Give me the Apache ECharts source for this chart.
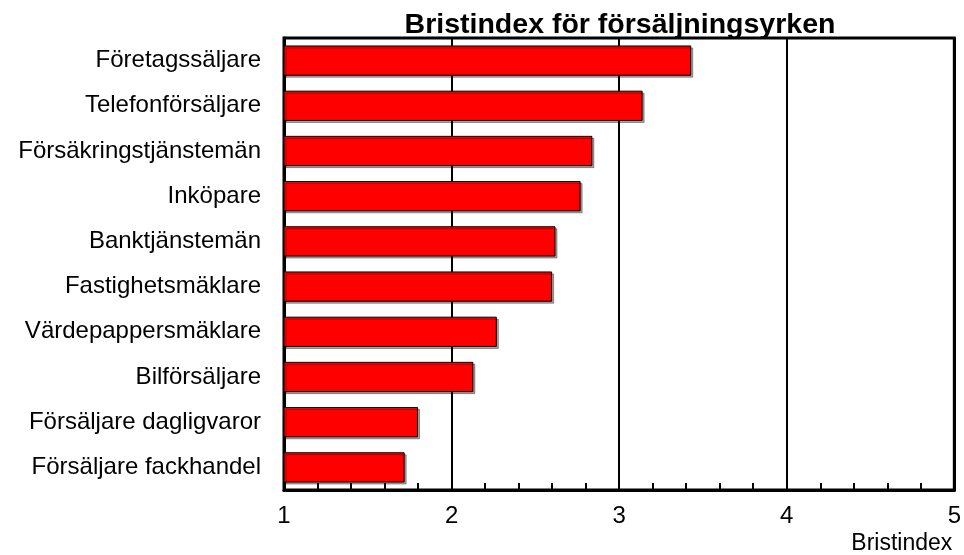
<!DOCTYPE html>
<html>
<head>
<meta charset="utf-8">
<script src="https://cdn.jsdelivr.net/npm/echarts@6/dist/echarts.min.js"></script>
<style>
  html, body { margin: 0; padding: 0; background: #fff; }
  #main { width: 964px; height: 555px; }
</style>
</head>
<body>
<div id="main"></div>
<script>
// yrken, uppifrån och ned
var categories = [
  'Företagssäljare',
  'Telefonförsäljare',
  'Försäkringstjänstemän',
  'Inköpare',
  'Banktjänstemän',
  'Fastighetsmäklare',
  'Värdepappersmäklare',
  'Bilförsäljare',
  'Försäljare dagligvaror',
  'Försäljare fackhandel'
];
var bristindex = [3.43, 3.14, 2.84, 2.77, 2.62, 2.60, 2.27, 2.13, 1.80, 1.72];
var axisMin = 1;
var axisMax = 5;

var font = 'Liberation Sans, Arial, sans-serif';
var chart = echarts.init(document.getElementById('main'));

var option = {
  animation: false,
  backgroundColor: '#fff',
  title: {
    text: 'Bristindex för försäljningsyrken',
    left: 615,
    top: 6,
    textAlign: 'center',
    textStyle: { fontFamily: font, fontSize: 28.5, fontWeight: 'bold', color: '#000' }
  },
  grid: {
    left: 284, right: 6, top: 38, bottom: 64,
    show: true,
    borderColor: '#000',
    borderWidth: 3,
    backgroundColor: 'transparent'
  },
  xAxis: {
    type: 'value',
    min: axisMin,
    max: axisMax,
    interval: 1,
    name: 'Bristindex',
    nameLocation: 'end',
    nameGap: -2,
    nameTextStyle: {
      fontFamily: font, fontSize: 23, color: '#000',
      align: 'right', verticalAlign: 'top', padding: [42, 0, 0, 0]
    },
    axisLine: { show: true, lineStyle: { color: '#000', width: 3 } },
    axisTick: { show: true, inside: true, length: 7, lineStyle: { color: '#000', width: 2 } },
    minorTick: { show: true, splitNumber: 5, length: 7, lineStyle: { color: '#000', width: 2 } },
    axisLabel: { fontFamily: font, fontSize: 24, color: '#000', margin: 14 },
    splitLine: { show: true, lineStyle: { color: '#000', width: 2 } }
  },
  yAxis: {
    type: 'category',
    data: categories,
    inverse: true,
    axisLine: { show: true, lineStyle: { color: '#000', width: 3 } },
    axisTick: { show: false },
    axisLabel: { fontFamily: font, fontSize: 24, color: '#000', margin: 23 },
    splitLine: { show: false }
  },
  series: [{
    type: 'bar',
    data: bristindex,
    barCategoryGap: '33%',
    itemStyle: {
      color: '#ff0000',
      borderColor: '#000',
      borderWidth: 1,
      shadowColor: 'rgba(0,0,0,0.35)',
      shadowOffsetX: 2,
      shadowOffsetY: 2,
      shadowBlur: 0
    }
  }]
};

chart.setOption(option);
</script>
</body>
</html>
